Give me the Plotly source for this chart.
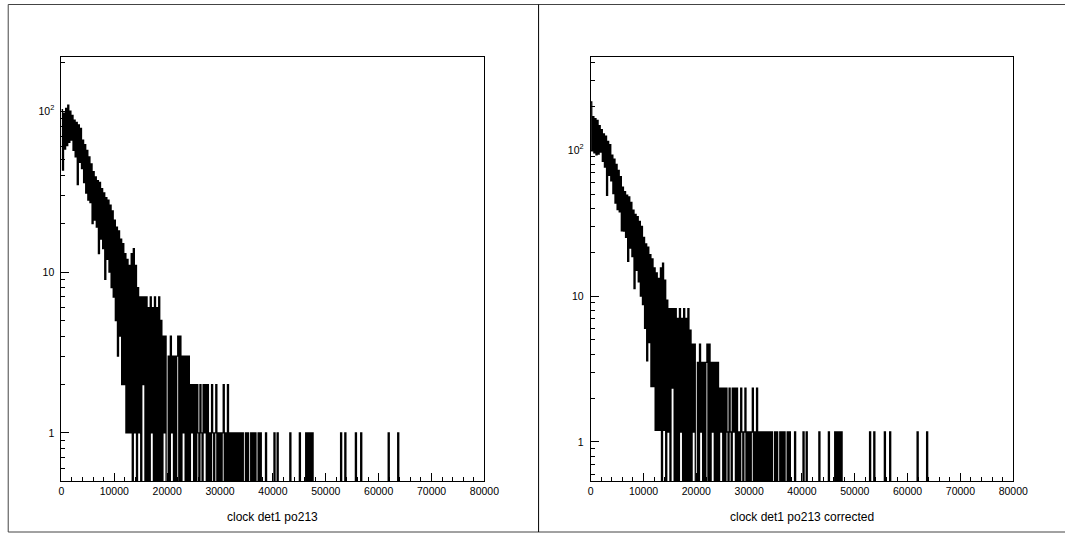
import math
import plotly.graph_objects as go

# ---- histogram binning -------------------------------------------------
BIN_WIDTH = 200
N_BINS = 400            # 0 .. 80000 clock ticks

# raw counts per bin, starting at clock = 0 (bins of 200)
raw_counts = [
    102, 43, 97, 58, 104, 61, 109, 64, 100, 66,     # 0 - 1800
    94, 57, 88, 52, 85, 35, 82, 48, 78, 44,         # 2000 - 3800
    66, 36, 62, 31, 57, 28, 52, 27, 47, 20,         # 4000 - 5800
    42, 21, 39, 19, 37, 13, 36, 16, 33, 14,         # 6000 - 7800
    31, 9, 29, 12, 28, 10, 26, 8, 24, 7,            # 8000 - 9800
    21, 5, 19, 3, 18, 4, 16, 2, 15, 2,              # 10000 - 11800
    13, 1, 12, 1, 11, 1, 13, 0, 14, 1,              # 12000 - 13800
    11, 0, 8, 1, 7, 0, 7, 2, 7, 0,                  # 14000 - 15800
    7, 0, 6, 0, 7, 1, 6, 0, 7, 0,                   # 16000 - 17800
    6, 0, 7, 0, 5, 0, 4, 1, 4, 0,                   # 18000 - 19800
    0, 3, 0, 4, 1, 3, 0, 3, 0, 3,                   # 20000 - 21800
    4, 0, 4, 0, 3, 1, 3, 0, 3, 0,                   # 22000 - 23800
    3, 0, 2, 1, 2, 0, 2, 0, 2, 1,                   # 24000 - 25800
    0, 2, 1, 0, 2, 1, 2, 0, 2, 0,                   # 26000 - 27800
    1, 0, 2, 1, 0, 1, 2, 0, 1, 0,                   # 28000 - 29800
    1, 0, 1, 2, 0, 1, 0, 2, 0, 1,                   # 30000 - 31800
    0, 1, 0, 1, 0, 1, 0, 1, 0, 1,                   # 32000 - 33800
    0, 1, 0, 0, 1, 0, 1, 0, 0, 1,                   # 34000 - 35800
    0, 1, 0, 1, 0, 0, 1, 0, 1, 0,                   # 36000 - 37800
    0, 0, 0, 1, 0, 0, 0, 0, 0, 0,                   # 38000 - 39800
]

# isolated single events in the long tail (clock value of the bin)
tail_events = [40200, 40800, 43200, 45000, 46200, 46600, 47000, 47400,
               52800, 53600, 55600, 56600, 61800, 63600]

# efficiency correction, applied from each lower edge upward
corr_edges = [0, 200, 400, 600, 800, 1000, 1200, 3000, 6000, 8000, 10000, 14000]
corr_factor = [2.1, 2.3, 1.75, 1.65, 1.58, 1.52, 1.47, 1.4, 1.33, 1.25, 1.2, 1.17]

# axis ranges (log10 of y limits) and tick labels
left_yrange = [math.log10(0.503), math.log10(216)]
right_yrange = [math.log10(0.54), math.log10(433)]
x_tickvals = [0, 10000, 20000, 30000, 40000, 50000, 60000, 70000, 80000]
x_ticktext = ["0", "10000", "20000", "30000", "40000", "50000", "60000", "70000", "80000"]
y_tickvals = [1, 10, 100]
y_ticktext = ["1", "10", "10<sup>2</sup>"]
titles = ["clock det1 po213", "clock det1 po213 corrected"]

# ---- build full histograms ---------------------------------------------
counts = raw_counts + [0] * (N_BINS - len(raw_counts))
for t in tail_events:
    counts[t // BIN_WIDTH] = 1

corrected = []
for i, c in enumerate(counts):
    x = i * BIN_WIDTH
    f = corr_factor[0]
    for e, k in zip(corr_edges, corr_factor):
        if x >= e:
            f = k
    corrected.append(c * f)

edges = [i * BIN_WIDTH for i in range(N_BINS + 1)]
FLOOR = 0.05   # empty bins drop below the axis minimum


def step_y(vals):
    ys = [v if v > 0 else FLOOR for v in vals]
    return ys + [ys[-1]]


# canvas size in px; pad geometry below is given in the same px units
W, H = 1065, 534
LINE_W = 1.3
fig = go.Figure()
fig.add_trace(go.Scatter(x=edges, y=step_y(counts), mode="lines", line_shape="hv",
                         line=dict(color="black", width=LINE_W), xaxis="x", yaxis="y",
                         showlegend=False, hoverinfo="skip"))
fig.add_trace(go.Scatter(x=edges, y=step_y(corrected), mode="lines", line_shape="hv",
                         line=dict(color="black", width=LINE_W), xaxis="x2", yaxis="y2",
                         showlegend=False, hoverinfo="skip"))

FONT = "Liberation Sans"
tickfont = dict(family=FONT, size=10.5, color="black")

y_top, y_bot = 57.3, 481.0
ydom = [1 - y_bot / H, 1 - y_top / H]
left_px = [59.4, 489.7]
right_px = [597.8, 1027.6]
frame_left, frame_mid = 5.3, 544.8


def xaxis(dom, anchor):
    return dict(domain=[dom[0] / W, dom[1] / W], anchor=anchor, range=[0, 80000],
                showgrid=False, zeroline=False, showline=True, mirror=True,
                linecolor="black", linewidth=1, ticks="inside", ticklen=8,
                tickcolor="black", tickwidth=1, tickmode="array",
                tickvals=x_tickvals, ticktext=x_ticktext, tickfont=tickfont,
                minor=dict(ticks="inside", ticklen=4, dtick=2000, tick0=0,
                           tickcolor="black", tickwidth=1, showgrid=False))


minor_log = [0.6, 0.7, 0.8, 0.9] + [k for k in range(2, 10)] + \
            [10 * k for k in range(2, 10)] + [100 * k for k in range(2, 10)]


def yaxis(rng, anchor):
    return dict(domain=ydom, anchor=anchor, type="log", range=rng,
                showgrid=False, zeroline=False, showline=True, mirror=True,
                linecolor="black", linewidth=1, ticks="inside", ticklen=8,
                tickcolor="black", tickwidth=1, tickmode="array",
                tickvals=y_tickvals, ticktext=y_ticktext, tickfont=tickfont,
                ticklabelstandoff=4,
                minor=dict(ticks="inside", ticklen=4, tickmode="array",
                           tickvals=minor_log, tickcolor="black", tickwidth=1,
                           showgrid=False))


fig.update_layout(
    width=W, height=H, autosize=False, margin=dict(l=0, r=0, t=0, b=0),
    paper_bgcolor="white", plot_bgcolor="white",
    xaxis=xaxis(left_px, "y"), yaxis=yaxis(left_yrange, "x"),
    xaxis2=xaxis(right_px, "y2"), yaxis2=yaxis(right_yrange, "x2"),
)

# axis titles under each frame
for px, text in zip([left_px, right_px], titles):
    fig.add_annotation(x=(px[0] + px[1]) / 2 / W, y=1 - 517 / H, xref="paper", yref="paper",
                       text=text, showarrow=False, xanchor="center", yanchor="middle",
                       font=dict(family=FONT, size=12, color="black"))

# page frames around the two pads
fig.add_shape(type="rect", xref="paper", yref="paper",
              x0=frame_left / W, x1=1.05, y0=1 - 532 / H, y1=1 - 4.5 / H,
              line=dict(color="#444444", width=1))
fig.add_shape(type="line", xref="paper", yref="paper",
              x0=frame_mid / W, x1=frame_mid / W, y0=1 - 532 / H, y1=1 - 4.5 / H,
              line=dict(color="black", width=1))

fig.write_html("out.html", config={"responsive": False})
